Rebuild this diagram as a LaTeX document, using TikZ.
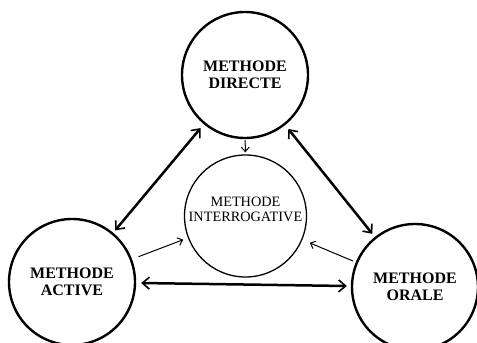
\documentclass[tikz,border=0pt]{standalone}
\usepackage{fontspec}
\setmainfont{Liberation Serif}
\usetikzlibrary{arrows.meta}
\newcommand{\outerfont}{\bfseries\fontsize{16pt}{17pt}\selectfont}
\newcommand{\innerfont}{\fontsize{14.3pt}{15pt}\selectfont}
\begin{document}
\begin{tikzpicture}[x=1pt,y=1pt,
  outer/.style={circle,draw,line width=2.4pt,minimum size=126pt,inner sep=0pt,align=center,
    font=\outerfont},
  inner/.style={circle,draw,line width=1.3pt,minimum size=122pt,inner sep=0pt},
  innertext/.style={align=center,font=\innerfont},
  bigarrow/.style={line width=2.5pt,{Straight Barb[length=7pt,width=12pt,line width=1.6pt]}-{Straight Barb[length=7pt,width=12pt,line width=1.6pt]}},
  thinarrow/.style={line width=1pt,-{Straight Barb[length=4.5pt,width=8pt,line width=1pt]}}]
\useasboundingbox (0,0) rectangle (477,343);
\fill[white] (0,0) rectangle (477,343);
\node[outer] (dir) at (245,268) {METHODE\\DIRECTE};
\node[inner] (int) at (245.5,127) {};
\node[innertext] (intt) at (245.5,134) {METHODE\\INTERROGATIVE};
\node[outer] (act) at (72,61) {METHODE\\ACTIVE};
\node[outer] (ora) at (415,56) {METHODE\\ORALE};
\draw[bigarrow,shorten <=5pt,shorten >=3pt] (dir) -- (act);
\draw[bigarrow,shorten <=5pt,shorten >=4pt] (dir) -- (ora);
\draw[bigarrow,shorten <=5pt,shorten >=4pt] (act) -- (ora);
\draw[thinarrow,shorten <=1pt,shorten >=2pt] (dir) -- (int);
\draw[thinarrow,shorten <=7pt,shorten >=5pt] (act) -- (int);
\draw[thinarrow,shorten <=3pt,shorten >=8pt] (ora) -- (int);
\end{tikzpicture}
\end{document}
